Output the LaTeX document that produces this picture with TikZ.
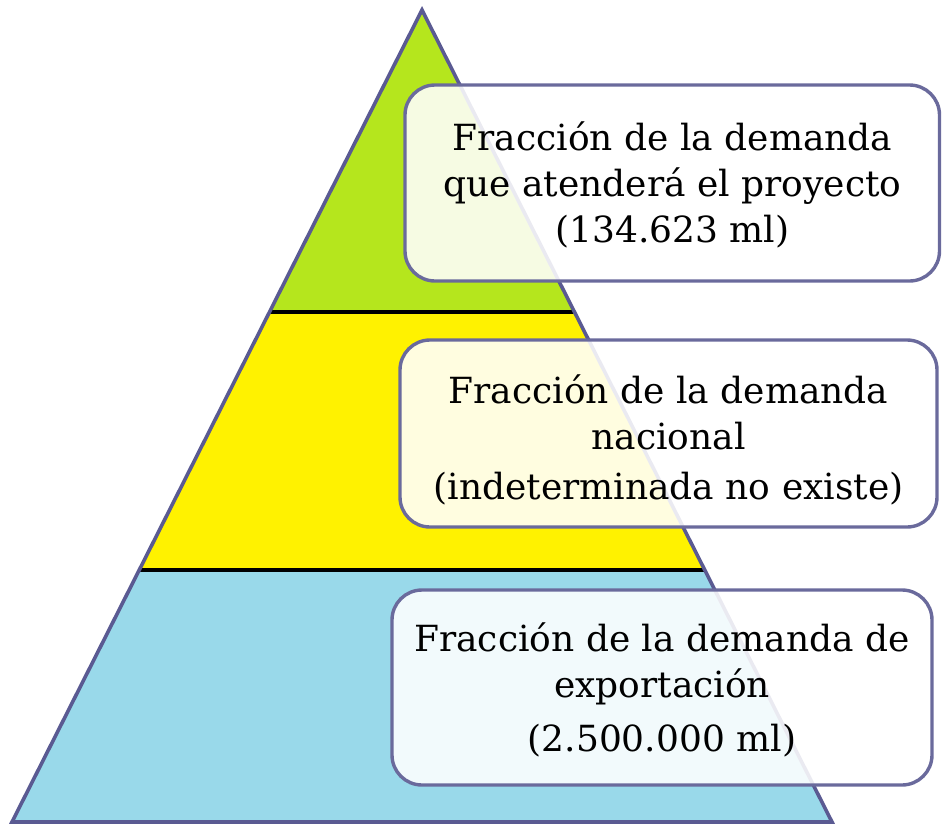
\documentclass[tikz,border=0pt]{standalone}
\usepackage{fontspec}
\setmainfont{DejaVu Serif}
\definecolor{pgreen}{HTML}{B5E61D}
\definecolor{pyellow}{HTML}{FFF200}
\definecolor{pblue}{HTML}{99D9EA}
\definecolor{poutline}{HTML}{5A5A92}
\definecolor{pbox}{HTML}{6A6A9C}
\tikzset{
  infobox/.style={draw=pbox, line width=3.4pt, rounded corners=30pt,
    fill=white, fill opacity=0.88, draw opacity=1},
  boxtext/.style={align=center, font=\fontsize{36}{46}\selectfont},
  divider/.style={line width=3.6pt, black},
}
\begin{document}
\begin{tikzpicture}[x=1pt,y=-1pt]
\useasboundingbox (0,0) rectangle (942,825);
\coordinate (apex) at (422,10);
\coordinate (l1) at (269.5,312);
\coordinate (r1) at (574.5,312);
\coordinate (l2) at (139.2,570);
\coordinate (r2) at (704.8,570);
\coordinate (bl) at (12,822);
\coordinate (br) at (832,822);
\fill[pgreen] (apex) -- (l1) -- (r1) -- cycle;
\fill[pyellow] (l1) -- (l2) -- (r2) -- (r1) -- cycle;
\fill[pblue] (l2) -- (bl) -- (br) -- (r2) -- cycle;
\draw[divider] (l1) -- (r1);
\draw[divider] (l2) -- (r2);
\draw[poutline, line width=3.6pt, line join=miter] (apex) -- (bl) -- (br) -- cycle;
\path[infobox] (405,85) rectangle (939.5,281);
\path[infobox] (400,340) rectangle (937,527);
\path[infobox] (392,590) rectangle (932,785);
\node[boxtext] (t1) at (672.5,185)
  {Fracción de la demanda\\que atenderá el proyecto\\(134.623 ml)};
\node[boxtext] (t2) at (668.5,440)
  {Fracción de la demanda\\nacional\\[4pt](indeterminada no existe)};
\node[boxtext] (t3) at (662,690)
  {Fracción de la demanda de\\exportación\\[8pt](2.500.000 ml)};
\end{tikzpicture}
\end{document}
